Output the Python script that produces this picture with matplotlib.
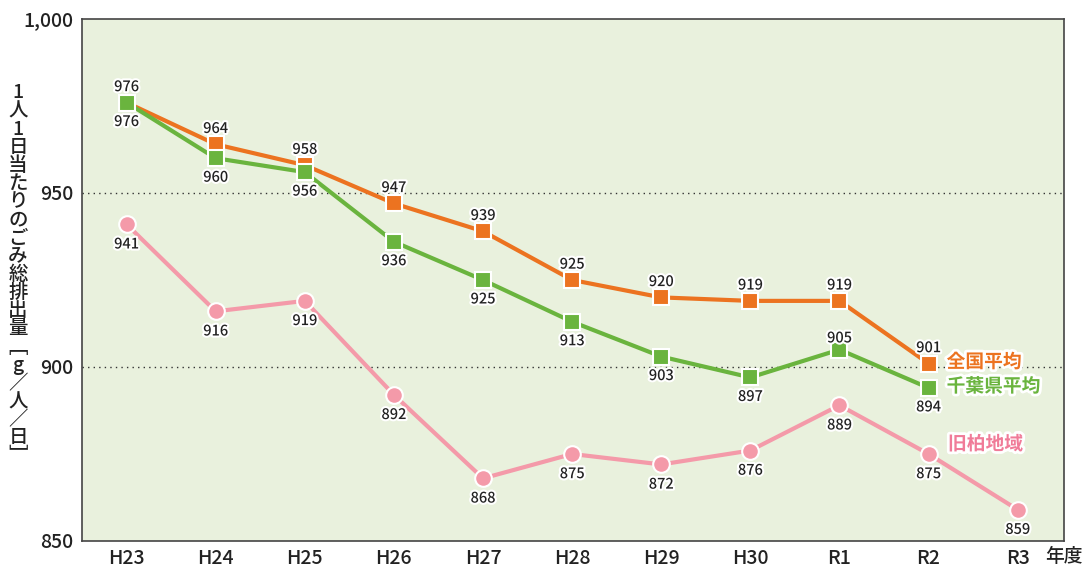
import matplotlib.pyplot as plt
import matplotlib.patheffects as pe

plt.rcParams['font.family'] = ['Noto Sans CJK JP', 'DejaVu Sans']

# データ
years = ["H23", "H24", "H25", "H26", "H27", "H28", "H29", "H30", "R1", "R2", "R3"]
national = [976, 964, 958, 947, 939, 925, 920, 919, 919, 901]
chiba = [976, 960, 956, 936, 925, 913, 903, 897, 905, 894]
kashiwa = [941, 916, 919, 892, 868, 875, 872, 876, 889, 875, 859]

c_nat = "#ec7320"
c_chi = "#6ab43e"
c_kas = "#f49aa9"
c_kas_txt = "#f07b98"

fig = plt.figure(figsize=(10.84, 5.67), dpi=100)
ax = fig.add_axes([82 / 1084, 1 - 541 / 567, (1064 - 82) / 1084, (541 - 19) / 567])
ax.set_facecolor("#e9f1dd")

white = [pe.withStroke(linewidth=3, foreground="white")]

x_nat = range(len(national))
x_kas = range(len(kashiwa))

ax.plot(x_kas, kashiwa, color=c_kas, lw=3, marker="o", ms=12,
        mfc=c_kas, mec="white", mew=1.5, zorder=3)
ax.plot(x_nat, national, color=c_nat, lw=3, marker="s", ms=12,
        mfc=c_nat, mec="white", mew=1.5, zorder=4)
ax.plot(x_nat, chiba, color=c_chi, lw=3, marker="s", ms=12,
        mfc=c_chi, mec="white", mew=1.5, zorder=5)

# 値ラベル
lbl = dict(fontsize=10.5, fontweight="medium", color="#222222",
           path_effects=white, zorder=6, textcoords="offset points", ha="center")
for i, v in enumerate(national):
    ax.annotate(str(v), (i, v), xytext=(0, 6), va="bottom", **lbl)
for i, v in enumerate(chiba):
    if years[i] == "R1":
        ax.annotate(str(v), (i, v), xytext=(0, 3), va="bottom", **lbl)
    else:
        ax.annotate(str(v), (i, v), xytext=(0, -9), va="top", **lbl)
for i, v in enumerate(kashiwa):
    ax.annotate(str(v), (i, v), xytext=(0, -9.5), va="top", **lbl)

# 系列名
lab_fx = [pe.withStroke(linewidth=4, foreground="white")]
ax.annotate("全国平均", (9, national[-1]), xytext=(13, 1), textcoords="offset points",
            ha="left", va="center", fontsize=13.5, fontweight="bold", color=c_nat,
            path_effects=lab_fx, zorder=7)
ax.annotate("千葉県平均", (9, chiba[-1]), xytext=(13, 1), textcoords="offset points",
            ha="left", va="center", fontsize=13.5, fontweight="bold", color=c_chi,
            path_effects=lab_fx, zorder=7)
ax.annotate("旧柏地域", (9, kashiwa[9]), xytext=(14, 7), textcoords="offset points",
            ha="left", va="center", fontsize=13.5, fontweight="bold", color=c_kas_txt,
            path_effects=lab_fx, zorder=7)

# 軸
ax.set_xlim(-0.5, 10.52)
ax.set_ylim(850, 1000)
ax.set_xticks(range(len(years)))
ax.set_xticklabels(years, fontsize=14, fontweight="medium")
ax.set_yticks([850, 900, 950, 1000])
ax.set_yticklabels(["850", "900", "950", "1,000"], fontsize=14, fontweight="medium")
ax.tick_params(length=0, pad=6, colors="#222222")
for y in [900, 950]:
    ax.axhline(y, color="#333333", lw=1, ls=(0, (1, 3)), zorder=1)
for s in ax.spines.values():
    s.set_color("#444444")
    s.set_linewidth(1.2)

fig.text(1045 / 1084, 1 - 556 / 567, "年度", fontsize=13.5, fontweight="medium",
         ha="left", va="center", color="#222222")

# 縦書きの軸ラベル
ylabel = list("1人1日当たりのごみ総排出量") + ["﹇", "g", "／", "人", "／", "日", "﹈"]
top, bottom = 93, 456
step = (bottom - top) / (len(ylabel) - 1)
for k, ch in enumerate(ylabel):
    fig.text(18 / 1084, 1 - (top + k * step) / 567, ch, fontsize=14,
             fontweight="medium", ha="center", va="center", color="#222222")

fig.savefig("out.png", dpi=100)
